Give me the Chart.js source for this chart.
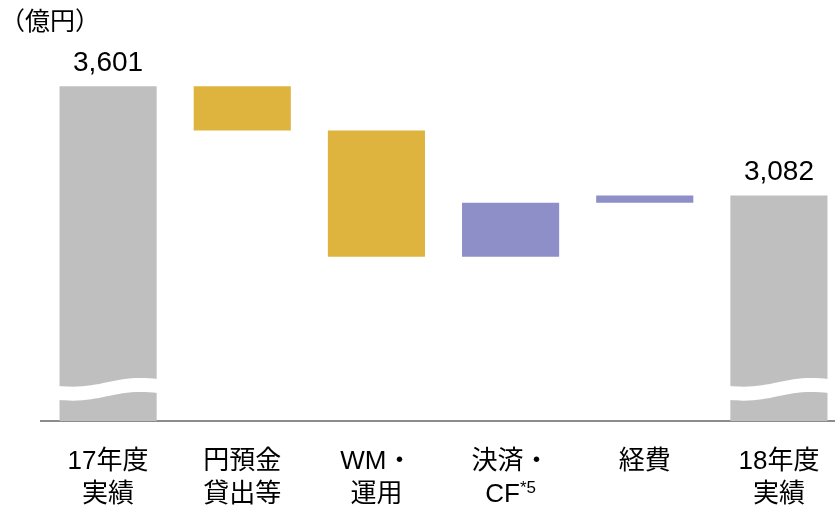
<!DOCTYPE html>
<html>
<head>
<meta charset="utf-8">
<script src="https://cdn.jsdelivr.net/npm/chart.js@4/dist/chart.umd.min.js"></script>
<style>
  html, body { margin: 0; padding: 0; background: #fff; overflow: hidden; }
  #wrap { width: 835px; height: 509px; overflow: hidden; }
</style>
</head>
<body>
<div id="wrap"><canvas id="waterfall" width="846" height="509"></canvas></div>
<script>
// data (億円)
const categories = [['17年度', '実績'], ['円預金', '貸出等'], ['WM・', '運用'], ['決済・', 'CF'], ['経費'], ['18年度', '実績']];
const footnotes = ['', '', '', '*5', '', ''];
const startValue = 3601;
const changes = [-210, -600, 257, 34];
const endValue = 3082;
const totalBars = [0, 5];
const barColors = ['#BFBFBF', '#DEB43F', '#DEB43F', '#8E8FC8', '#8E8FC8', '#BFBFBF'];
const unitLabel = '（億円）';

// y axis is cut: bottom of the plot is not zero
const yMin = 2011;
const yMax = 4011;
const axisBreakAt = 2177;

// floating bars built from the running total
const ranges = [[yMin, startValue]];
let running = startValue;
changes.forEach(c => {
  ranges.push([running, running + c]);
  running += c;
});
ranges.push([yMin, endValue]);

const FONT = '"Liberation Sans", "Noto Sans CJK JP", sans-serif';

const decorations = {
  id: 'decorations',
  afterDatasetsDraw(chart) {
    const { ctx, scales: { x, y } } = chart;
    const meta = chart.getDatasetMeta(0);
    const top = y.getPixelForValue(axisBreakAt);

    ctx.save();
    // white wave across the cut bars
    totalBars.forEach(i => {
      const bar = meta.data[i];
      const left = bar.x - bar.width / 2 - 1;
      const right = bar.x + bar.width / 2 + 1;
      const w = right - left;
      ctx.fillStyle = '#fff';
      ctx.beginPath();
      ctx.moveTo(left, top);
      ctx.bezierCurveTo(left + w * 0.45, top + 4, left + w * 0.55, top - 12, right, top - 7);
      ctx.lineTo(right, top + 7);
      ctx.bezierCurveTo(left + w * 0.55, top + 2, left + w * 0.45, top + 18, left, top + 14);
      ctx.closePath();
      ctx.fill();
    });

    // value labels on the totals
    ctx.fillStyle = '#000';
    ctx.textAlign = 'center';
    ctx.textBaseline = 'middle';
    ctx.font = '28px ' + FONT;
    totalBars.forEach(i => {
      const bar = meta.data[i];
      const v = ranges[i][1];
      ctx.fillText(v.toLocaleString('en-US'), bar.x, bar.y - 23);
    });

    // category labels
    const big = '26px ' + FONT;
    const small = '17px ' + FONT;
    categories.forEach((lines, i) => {
      const cx = x.getPixelForValue(i);
      lines.forEach((line, j) => {
        const cy = y.bottom + 41 + j * 33;
        const note = j === lines.length - 1 ? footnotes[i] : '';
        ctx.font = big;
        if (!note) {
          ctx.textAlign = 'center';
          ctx.fillText(line, cx, cy);
        } else {
          const w1 = ctx.measureText(line).width;
          ctx.font = small;
          const w2 = ctx.measureText(note).width;
          const x0 = cx - (w1 + w2) / 2;
          ctx.textAlign = 'left';
          ctx.fillText(note, x0 + w1, cy - 7);
          ctx.font = big;
          ctx.fillText(line, x0, cy);
        }
      });
    });

    // unit
    ctx.textAlign = 'left';
    ctx.font = '25px ' + FONT;
    ctx.fillText(unitLabel, 0, 23);
    ctx.restore();
  }
};

const ctx = document.getElementById('waterfall').getContext('2d');
const chart = new Chart(ctx, {
  type: 'bar',
  data: {
    labels: categories,
    datasets: [{
      data: ranges,
      backgroundColor: barColors,
      borderWidth: 0,
      borderSkipped: false,
      barPercentage: 0.724,
      categoryPercentage: 1.0,
    }],
  },
  options: {
    responsive: false,
    animation: false,
    devicePixelRatio: 1,
    layout: { padding: { left: 41, right: 0, top: 0, bottom: 80 } },
    plugins: {
      legend: { display: false },
      tooltip: { enabled: false },
    },
    scales: {
      x: {
        offset: true,
        grid: { display: false },
        ticks: { display: false },
        border: { display: true, color: '#8C8C8C', width: 2 },
      },
      y: {
        display: false,
        min: yMin,
        max: yMax,
      },
    },
  },
  plugins: [decorations],
});
</script>
</body>
</html>
